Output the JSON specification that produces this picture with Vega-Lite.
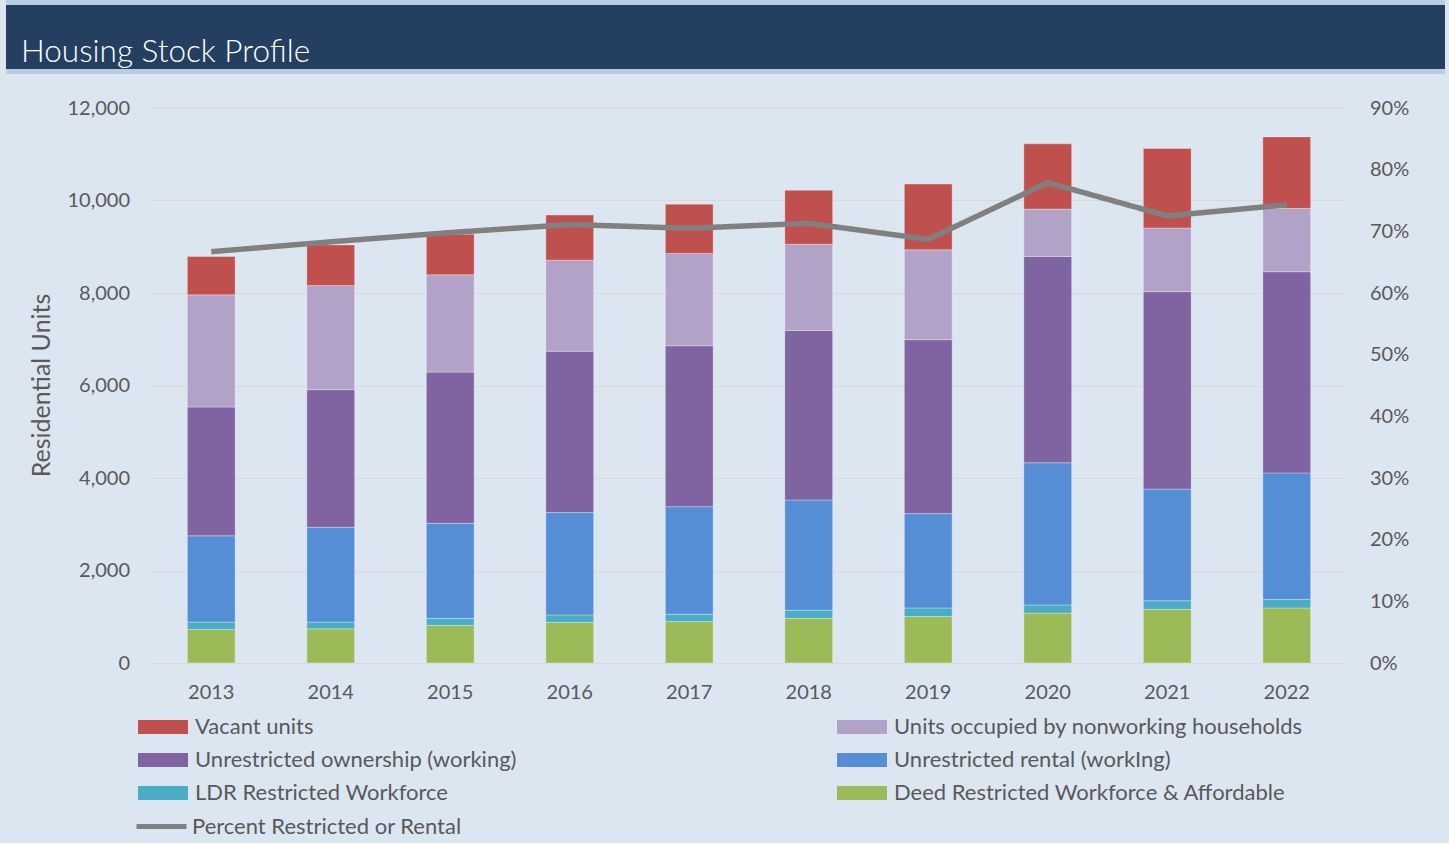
{
  "$schema": "https://vega.github.io/schema/vega-lite/v6.json",
  "background": "#dce6f1",
  "padding": {"left": 6, "top": 0, "right": 4, "bottom": 5},
  "spacing": 24,
  "config": {
    "font": "Lato",
    "view": {"stroke": null},
    "axis": {"labelFont": "Lato", "titleFont": "Lato", "labelColor": "#595959", "titleColor": "#595959", "labelFontSize": 20, "titleFontSize": 25, "titleFontWeight": "normal", "ticks": false, "domain": false},
    "legend": {"labelFont": "Lato", "labelColor": "#595959"}
  },
  "datasets": {
    "units": [
      {"year": "2013", "series": "Deed Restricted Workforce & Affordable", "level": 1, "units": 725},
      {"year": "2013", "series": "LDR Restricted Workforce", "level": 2, "units": 160},
      {"year": "2013", "series": "Unrestricted rental (workIng)", "level": 3, "units": 1865},
      {"year": "2013", "series": "Unrestricted ownership (working)", "level": 4, "units": 2785},
      {"year": "2013", "series": "Units occupied by nonworking households", "level": 5, "units": 2425},
      {"year": "2013", "series": "Vacant units", "level": 6, "units": 830},
      {"year": "2014", "series": "Deed Restricted Workforce & Affordable", "level": 1, "units": 740},
      {"year": "2014", "series": "LDR Restricted Workforce", "level": 2, "units": 145},
      {"year": "2014", "series": "Unrestricted rental (workIng)", "level": 3, "units": 2050},
      {"year": "2014", "series": "Unrestricted ownership (working)", "level": 4, "units": 2975},
      {"year": "2014", "series": "Units occupied by nonworking households", "level": 5, "units": 2250},
      {"year": "2014", "series": "Vacant units", "level": 6, "units": 880},
      {"year": "2015", "series": "Deed Restricted Workforce & Affordable", "level": 1, "units": 815},
      {"year": "2015", "series": "LDR Restricted Workforce", "level": 2, "units": 150},
      {"year": "2015", "series": "Unrestricted rental (workIng)", "level": 3, "units": 2055},
      {"year": "2015", "series": "Unrestricted ownership (working)", "level": 4, "units": 3270},
      {"year": "2015", "series": "Units occupied by nonworking households", "level": 5, "units": 2105},
      {"year": "2015", "series": "Vacant units", "level": 6, "units": 875},
      {"year": "2016", "series": "Deed Restricted Workforce & Affordable", "level": 1, "units": 880},
      {"year": "2016", "series": "LDR Restricted Workforce", "level": 2, "units": 160},
      {"year": "2016", "series": "Unrestricted rental (workIng)", "level": 3, "units": 2215},
      {"year": "2016", "series": "Unrestricted ownership (working)", "level": 4, "units": 3485},
      {"year": "2016", "series": "Units occupied by nonworking households", "level": 5, "units": 1970},
      {"year": "2016", "series": "Vacant units", "level": 6, "units": 975},
      {"year": "2017", "series": "Deed Restricted Workforce & Affordable", "level": 1, "units": 895},
      {"year": "2017", "series": "LDR Restricted Workforce", "level": 2, "units": 160},
      {"year": "2017", "series": "Unrestricted rental (workIng)", "level": 3, "units": 2325},
      {"year": "2017", "series": "Unrestricted ownership (working)", "level": 4, "units": 3480},
      {"year": "2017", "series": "Units occupied by nonworking households", "level": 5, "units": 1995},
      {"year": "2017", "series": "Vacant units", "level": 6, "units": 1065},
      {"year": "2018", "series": "Deed Restricted Workforce & Affordable", "level": 1, "units": 965},
      {"year": "2018", "series": "LDR Restricted Workforce", "level": 2, "units": 175},
      {"year": "2018", "series": "Unrestricted rental (workIng)", "level": 3, "units": 2385},
      {"year": "2018", "series": "Unrestricted ownership (working)", "level": 4, "units": 3665},
      {"year": "2018", "series": "Units occupied by nonworking households", "level": 5, "units": 1865},
      {"year": "2018", "series": "Vacant units", "level": 6, "units": 1165},
      {"year": "2019", "series": "Deed Restricted Workforce & Affordable", "level": 1, "units": 1005},
      {"year": "2019", "series": "LDR Restricted Workforce", "level": 2, "units": 185},
      {"year": "2019", "series": "Unrestricted rental (workIng)", "level": 3, "units": 2040},
      {"year": "2019", "series": "Unrestricted ownership (working)", "level": 4, "units": 3760},
      {"year": "2019", "series": "Units occupied by nonworking households", "level": 5, "units": 1945},
      {"year": "2019", "series": "Vacant units", "level": 6, "units": 1420},
      {"year": "2020", "series": "Deed Restricted Workforce & Affordable", "level": 1, "units": 1080},
      {"year": "2020", "series": "LDR Restricted Workforce", "level": 2, "units": 175},
      {"year": "2020", "series": "Unrestricted rental (workIng)", "level": 3, "units": 3075},
      {"year": "2020", "series": "Unrestricted ownership (working)", "level": 4, "units": 4460},
      {"year": "2020", "series": "Units occupied by nonworking households", "level": 5, "units": 1025},
      {"year": "2020", "series": "Vacant units", "level": 6, "units": 1410},
      {"year": "2021", "series": "Deed Restricted Workforce & Affordable", "level": 1, "units": 1160},
      {"year": "2021", "series": "LDR Restricted Workforce", "level": 2, "units": 185},
      {"year": "2021", "series": "Unrestricted rental (workIng)", "level": 3, "units": 2415},
      {"year": "2021", "series": "Unrestricted ownership (working)", "level": 4, "units": 4270},
      {"year": "2021", "series": "Units occupied by nonworking households", "level": 5, "units": 1375},
      {"year": "2021", "series": "Vacant units", "level": 6, "units": 1720},
      {"year": "2022", "series": "Deed Restricted Workforce & Affordable", "level": 1, "units": 1190},
      {"year": "2022", "series": "LDR Restricted Workforce", "level": 2, "units": 185},
      {"year": "2022", "series": "Unrestricted rental (workIng)", "level": 3, "units": 2735},
      {"year": "2022", "series": "Unrestricted ownership (working)", "level": 4, "units": 4350},
      {"year": "2022", "series": "Units occupied by nonworking households", "level": 5, "units": 1370},
      {"year": "2022", "series": "Vacant units", "level": 6, "units": 1545}
    ],
    "pct": [
      {"year": "2013", "pct": 0.667},
      {"year": "2014", "pct": 0.683},
      {"year": "2015", "pct": 0.698},
      {"year": "2016", "pct": 0.711},
      {"year": "2017", "pct": 0.705},
      {"year": "2018", "pct": 0.713},
      {"year": "2019", "pct": 0.687},
      {"year": "2020", "pct": 0.779},
      {"year": "2021", "pct": 0.725},
      {"year": "2022", "pct": 0.743}
    ]
  },
  "vconcat": [
    {
      "spacing": 0,
      "vconcat": [
        {
          "width": 1439,
          "height": 5,
          "view": {"fill": "#b8cce4", "stroke": null},
          "data": {"values": []},
          "mark": "point"
        },
        {
          "width": 1439,
          "height": 64,
          "view": {"fill": "#243f60", "stroke": null},
          "title": {"text": "Housing Stock Profile", "orient": "top", "anchor": "start", "offset": -88, "baseline": "alphabetic", "dx": 15, "fontSize": 31.5, "font": "Lato", "fontWeight": 300, "color": "#ffffff"},
          "data": {"values": []},
          "mark": "point"
        },
        {
          "width": 1439,
          "height": 5,
          "view": {"fill": "#b8cce4", "stroke": null},
          "data": {"values": []},
          "mark": "point"
        }
      ]
    },
    {
      "spacing": 22.5,
      "hconcat": [
        {
          "width": 1,
          "height": 1,
          "data": {"values": []},
          "mark": "point"
        },
        {
          "width": 1195,
          "height": 555,
          "view": {"stroke": null},
          "layer": [
            {
              "data": {"name": "units"},
              "mark": {"type": "bar", "stroke": "#ffffff", "strokeOpacity": 0.3, "strokeWidth": 1},
              "encoding": {
                "x": {"field": "year", "type": "ordinal", "scale": {"paddingInner": 0.6, "paddingOuter": 0.3},
                      "axis": {"title": null, "labelAngle": 0, "labelPadding": 19, "grid": false}},
                "y": {"field": "units", "type": "quantitative", "stack": "zero",
                      "scale": {"domain": [0, 12000], "nice": false},
                      "axis": {"title": "Residential Units", "values": [0, 2000, 4000, 6000, 8000, 10000, 12000], "format": ",.0f", "labelPadding": 22, "grid": true, "gridColor": "#d9d9d9", "gridWidth": 1.2, "titleX": -110, "titleY": 277, "titleAngle": -90, "titleAlign": "center", "titleBaseline": "middle"}},
                "order": {"field": "level", "type": "quantitative", "sort": "ascending"},
                "color": {"field": "series", "type": "nominal",
                          "scale": {"domain": ["Vacant units", "Units occupied by nonworking households", "Unrestricted ownership (working)", "Unrestricted rental (workIng)", "LDR Restricted Workforce", "Deed Restricted Workforce & Affordable"],
                                    "range": ["#c0504d", "#b3a2c7", "#8064a2", "#558ed5", "#4bacc6", "#9bbb59"]},
                          "legend": {
                            "title": null, "orient": "none", "legendX": 146, "legendY": 716, "direction": "horizontal", "columns": 2, "columnPadding": 320, "rowPadding": 11,
                            "symbolType": "M-3.57,-1H3.57V1H-3.57Z", "symbolSize": 196, "symbolStrokeWidth": 0, "symbolOpacity": 1,
                            "labelFontSize": 22, "labelOffset": 21, "labelLimit": 0
                          }}
              }
            },
            {
              "data": {"name": "pct"},
              "mark": {"type": "line", "strokeWidth": 5.5, "color": "#808080"},
              "encoding": {
                "x": {"field": "year", "type": "ordinal"},
                "y": {"field": "pct", "type": "quantitative", "scale": {"domain": [0, 0.9], "nice": false},
                      "axis": {"orient": "right", "title": null, "values": [0, 0.1, 0.2, 0.3, 0.4, 0.5, 0.6, 0.7, 0.8, 0.9], "format": ".0%", "labelPadding": 23, "grid": false}},
                "strokeDash": {"datum": "Percent Restricted or Rental", "scale": {"range": [[1, 0]]},
                               "legend": {"title": null, "orient": "none", "legendX": 128, "legendY": 799,
                                          "symbolType": "stroke", "symbolSize": 2500, "symbolStrokeColor": "#808080", "symbolStrokeWidth": 5,
                                          "labelFontSize": 22, "labelOffset": 3, "labelLimit": 0}}
              }
            }
          ],
          "resolve": {"scale": {"y": "independent"}}
        }
      ]
    }
  ]
}
